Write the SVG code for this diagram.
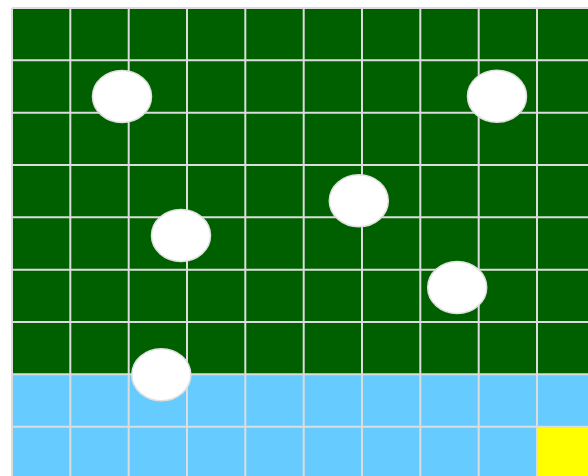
<svg xmlns="http://www.w3.org/2000/svg" width="588" height="476" viewBox="0 0 588 476">
<style>
.g{fill:#006000}
.b{fill:#66ccff}
.y{fill:#ffff00}
.ln{stroke:#dcdcdc;stroke-width:2;fill:none}
.st{fill:#ffffff;stroke:#e0e0e0;stroke-width:1.5}
</style>
<rect width="588" height="476" fill="#ffffff"/>
<g id="board">
<rect class="g" x="12" y="8" width="576" height="366.3"/>
<rect class="b" x="12" y="374.3" width="576" height="101.7"/>
<rect class="y" x="537" y="426.7" width="51" height="49.3"/>
</g>
<g id="grid" class="ln">
<path d="M12,8V476M70.3,8V476M128.7,8V476M187,8V476M245.3,8V476M303.7,8V476M362,8V476M420.3,8V476M478.7,8V476M537,8V476"/>
<path d="M12,8H588M12,60.3H588M12,112.7H588M12,165H588M12,217.3H588M12,269.7H588M12,322H588M12,374.3H588M12,426.7H588"/>
</g>
<g id="stones">
<ellipse class="st" cx="122" cy="96.5" rx="29.5" ry="26"/>
<ellipse class="st" cx="497" cy="96.3" rx="29.5" ry="26"/>
<ellipse class="st" cx="358.8" cy="200.8" rx="29.5" ry="26"/>
<ellipse class="st" cx="181" cy="235.5" rx="29.5" ry="26"/>
<ellipse class="st" cx="457.2" cy="287.5" rx="29.5" ry="26"/>
<ellipse class="st" cx="161.3" cy="374.7" rx="29.5" ry="26"/>
</g>
</svg>
